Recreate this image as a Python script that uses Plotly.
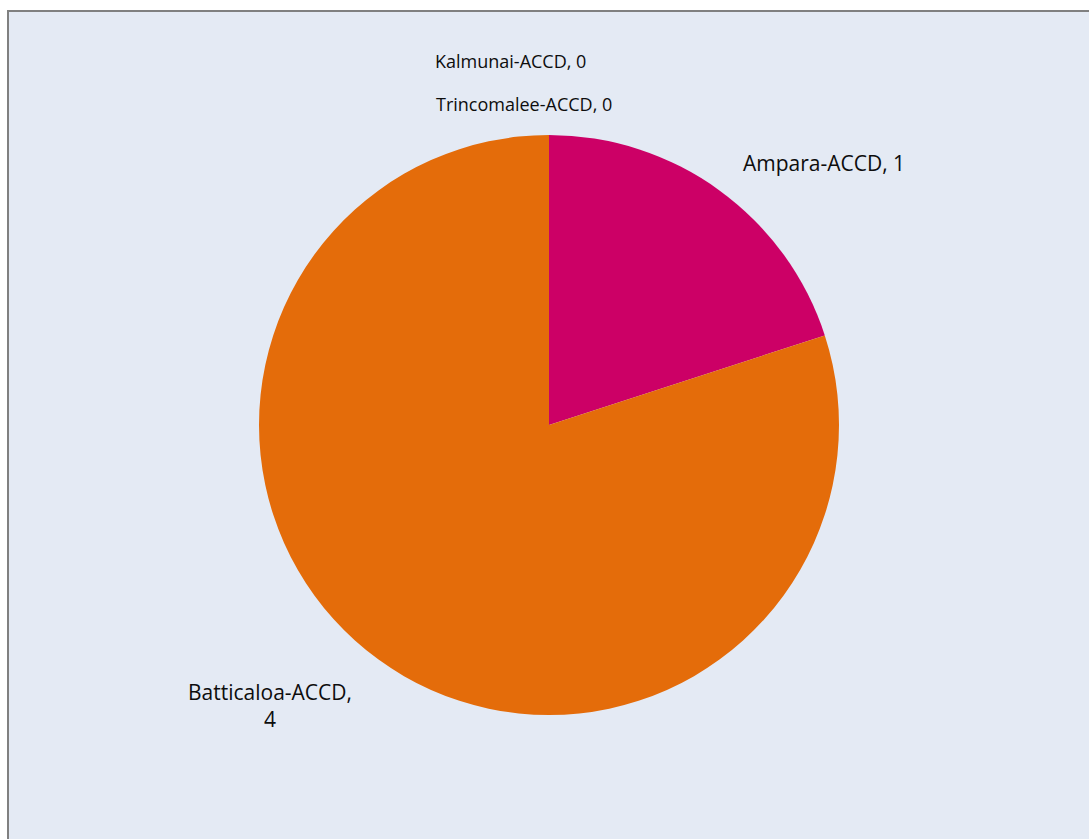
import plotly.graph_objects as go

categories = ["Ampara-ACCD", "Batticaloa-ACCD", "Kalmunai-ACCD", "Trincomalee-ACCD"]
values = [1, 4, 0, 0]
colors = ["#CC0066", "#E46C0A", "#4F81BD", "#9BBB59"]

W, H = 1089, 839

fig = go.Figure()
fig.add_trace(go.Pie(
    labels=categories, values=values, sort=False, direction="clockwise", rotation=0,
    marker=dict(colors=colors), textinfo="none", hoverinfo="label+value",
    showlegend=False,
    domain=dict(x=[259 / W, 839 / W], y=[1 - 715 / H, 1 - 135 / H]),
))

# label anchors (pixel), x-anchor, font size
label_pos = [(824, 163, "center", 21), (270, 705, "center", 21), (433, 61, "left", 18), (434, 104, "left", 18)]
for cat, val, (px, py, xa, fs) in zip(categories, values, label_pos):
    txt = f"{cat}, {val}" if cat != "Batticaloa-ACCD" else f"{cat},<br>{val}"
    fig.add_annotation(x=px / W, y=1 - py / H, xref="paper", yref="paper",
                       text=txt, showarrow=False, xanchor=xa, yanchor="middle",
                       font=dict(family="Open Sans, sans-serif", size=fs, color="#0d0d0d"))

fig.update_layout(
    width=W, height=H, margin=dict(l=0, r=0, t=0, b=0),
    paper_bgcolor="white", plot_bgcolor="white",
    shapes=[dict(type="rect", xref="paper", yref="paper", x0=8 / W, x1=1.01, y0=-0.01, y1=1 - 11 / H,
                 fillcolor="#E4EAF4", line=dict(color="#808080", width=2), layer="below")],
)

fig.write_html("out.html")
